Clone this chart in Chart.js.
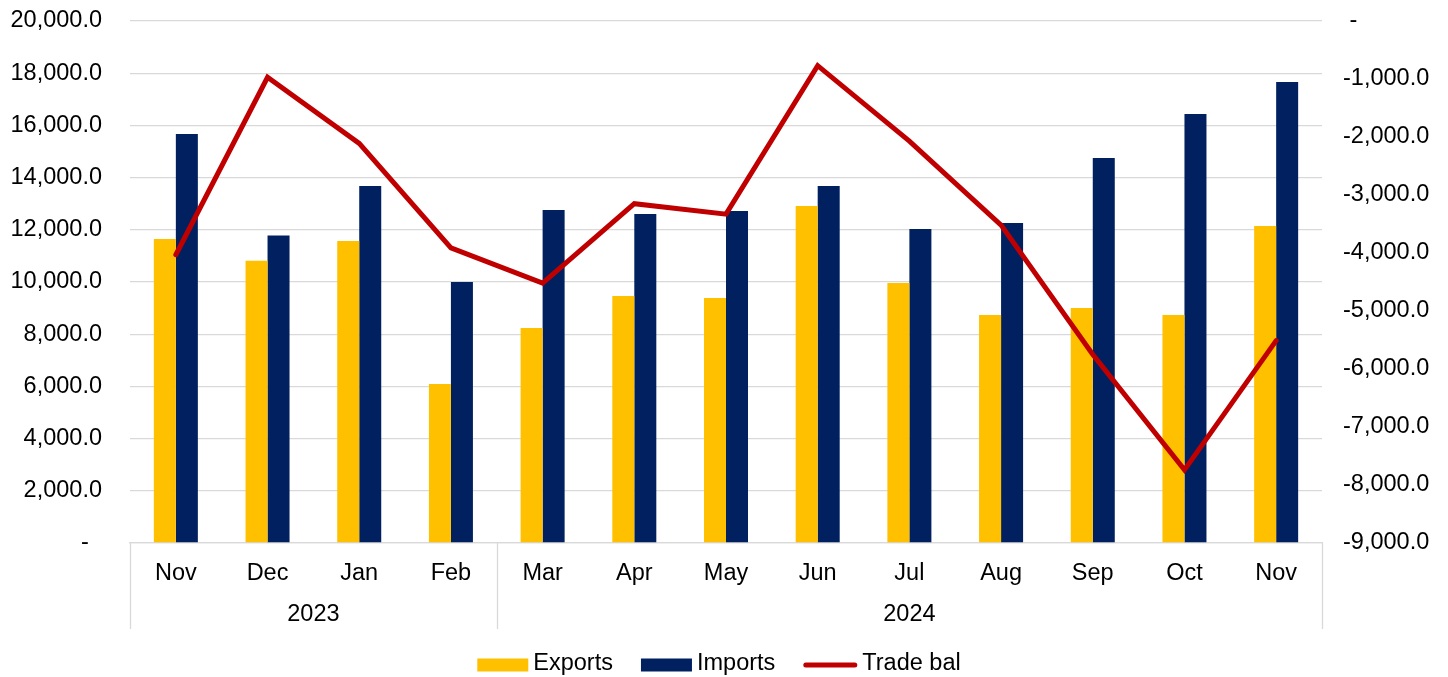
<!DOCTYPE html>
<html>
<head>
<meta charset="utf-8">
<script src="https://cdn.jsdelivr.net/npm/chart.js@4.4.1/dist/chart.umd.min.js"></script>
<style>
  html, body { margin: 0; padding: 0; background: #fff; }
  #wrap { width: 1448px; height: 677px; position: relative; }
</style>
</head>
<body>
<div id="wrap"><canvas id="trade-chart"></canvas></div>
<script>
// Months along the bottom axis and the year groups under them
const months = ['Nov', 'Dec', 'Jan', 'Feb', 'Mar', 'Apr', 'May', 'Jun', 'Jul', 'Aug', 'Sep', 'Oct', 'Nov'];
const yearLabels = ['2023', '2024'];
const yearFirstIndex = [0, 4];
const yearLastIndex = [3, 12];

// Series values
const exportsData = [11650, 10810, 11570, 6090, 8240, 9460, 9390, 12910, 9960, 8740, 9000, 8740, 12150];
const importsData = [15670, 11780, 13680, 10000, 12760, 12610, 12720, 13680, 12030, 12260, 14750, 16440, 17660];
const tradeBalData = [-4030, -970, -2110, -3910, -4520, -3150, -3330, -770, -2070, -3520, -5750, -7740, -5510];

const FONT = "'Liberation Sans', Arial, sans-serif";
const FONT_SIZE = 23.5;
const GRID = '#d9d9d9';

function fmt(v) {
    return v.toLocaleString('en-US', { minimumFractionDigits: 1, maximumFractionDigits: 1 });
}

// Year row + separator lines below the month labels
const yearGroups = {
    id: 'yearGroups',
    afterDraw(chart) {
        const ctx = chart.ctx;
        const x = chart.scales.x;
        const area = chart.chartArea;
        const lineBottom = 629;
        ctx.save();
        ctx.strokeStyle = GRID;
        ctx.lineWidth = 1.3;
        const edges = [area.left, area.right];
        for (let i = 0; i < yearFirstIndex.length - 1; i++) {
            edges.push((x.getPixelForValue(yearLastIndex[i]) + x.getPixelForValue(yearFirstIndex[i + 1])) / 2);
        }
        edges.forEach(px => {
            ctx.beginPath();
            ctx.moveTo(Math.round(px) + 0.5, area.bottom);
            ctx.lineTo(Math.round(px) + 0.5, lineBottom);
            ctx.stroke();
        });
        ctx.fillStyle = '#000';
        ctx.font = FONT_SIZE + 'px ' + FONT;
        ctx.textAlign = 'center';
        ctx.textBaseline = 'middle';
        yearLabels.forEach((label, i) => {
            const first = yearFirstIndex[i] === 0 ? area.left :
                (x.getPixelForValue(yearFirstIndex[i] - 1) + x.getPixelForValue(yearFirstIndex[i])) / 2;
            const last = yearLastIndex[i] === months.length - 1 ? area.right :
                (x.getPixelForValue(yearLastIndex[i]) + x.getPixelForValue(yearLastIndex[i] + 1)) / 2;
            ctx.fillText(label, (first + last) / 2, 615);
        });
        ctx.restore();
    }
};

// Legend at the bottom, Excel style
const bottomLegend = {
    id: 'bottomLegend',
    afterDraw(chart) {
        const ctx = chart.ctx;
        const items = [0, 1, 2].map(i => chart.data.datasets.find(d => d.legendIndex === i));
        const cy = 665;
        ctx.save();
        ctx.font = FONT_SIZE + 'px ' + FONT;
        ctx.textBaseline = 'middle';
        ctx.textAlign = 'left';
        const symW = items.map(d => d.type === 'line' ? 54 : 51);
        const textW = items.map(d => ctx.measureText(d.label).width);
        const gapSym = 5, gapItem = 28;
        let total = 0;
        items.forEach((d, i) => { total += symW[i] + gapSym + textW[i]; });
        total += gapItem * (items.length - 1);
        let xPos = 719 - total / 2;
        items.forEach((d, i) => {
            if (d.type === 'line') {
                ctx.strokeStyle = d.borderColor;
                ctx.lineWidth = 5;
                ctx.lineCap = 'round';
                ctx.beginPath();
                ctx.moveTo(xPos + 2.5, cy);
                ctx.lineTo(xPos + symW[i] - 2.5, cy);
                ctx.stroke();
            } else {
                ctx.fillStyle = d.backgroundColor;
                ctx.fillRect(xPos, cy - 6.5, symW[i], 13);
            }
            xPos += symW[i] + gapSym;
            ctx.fillStyle = '#000';
            ctx.fillText(d.label, xPos, cy - 1);
            xPos += textW[i] + gapItem;
        });
        ctx.restore();
    }
};

const tradeChartConfig = {
    type: 'bar',
    data: {
        labels: months,
        datasets: [
            {
                type: 'line',
                label: 'Trade bal',
                legendIndex: 2,
                data: tradeBalData,
                yAxisID: 'y1',
                borderColor: '#c00000',
                backgroundColor: '#c00000',
                borderWidth: 5,
                borderCapStyle: 'round',
                borderJoinStyle: 'miter',
                pointRadius: 0,
                tension: 0,
                order: 0
            },
            {
                label: 'Exports',
                legendIndex: 0,
                data: exportsData,
                yAxisID: 'y',
                backgroundColor: '#ffc000',
                categoryPercentage: 0.48,
                barPercentage: 1,
                order: 1
            },
            {
                label: 'Imports',
                legendIndex: 1,
                data: importsData,
                yAxisID: 'y',
                backgroundColor: '#002060',
                categoryPercentage: 0.48,
                barPercentage: 1,
                order: 2
            }
        ]
    },
    options: {
        responsive: true,
        maintainAspectRatio: false,
        animation: false,
        layout: { padding: { top: 21, left: 0, right: 0, bottom: 0 } },
        plugins: {
            legend: { display: false },
            tooltip: { enabled: false }
        },
        scales: {
            x: {
                grid: { display: false, drawTicks: false },
                border: { display: true, color: GRID, width: 1.3 },
                ticks: {
                    color: '#000',
                    font: { family: FONT, size: FONT_SIZE },
                    padding: 16,
                    maxRotation: 0,
                    autoSkip: false
                },
                afterFit(scale) { scale.height = 134; }
            },
            y: {
                position: 'left',
                min: 0,
                max: 20000,
                // invisible tick marks push the labels away without adding top padding
                grid: { color: GRID, lineWidth: 1.3, drawTicks: true, tickLength: 28, tickColor: 'rgba(0,0,0,0)' },
                border: { display: false },
                ticks: {
                    stepSize: 2000,
                    color: '#000',
                    font: { family: FONT, size: FONT_SIZE },
                    padding: 0,
                    callback: v => v === 0 ? '-  ' : fmt(v)
                },
                afterFit(scale) { scale.width = 130; }
            },
            y1: {
                position: 'right',
                min: -9000,
                max: 0,
                grid: { display: false, drawTicks: true, tickLength: 21 },
                border: { display: false },
                ticks: {
                    stepSize: 1000,
                    color: '#000',
                    font: { family: FONT, size: FONT_SIZE },
                    padding: 0,
                    callback: v => v === 0 ? ' -' : fmt(v)
                },
                afterFit(scale) { scale.width = 126; }
            }
        }
    },
    plugins: [yearGroups, bottomLegend]
};

const tradeChart = new Chart(document.getElementById('trade-chart').getContext('2d'), tradeChartConfig);
</script>
</body>
</html>
